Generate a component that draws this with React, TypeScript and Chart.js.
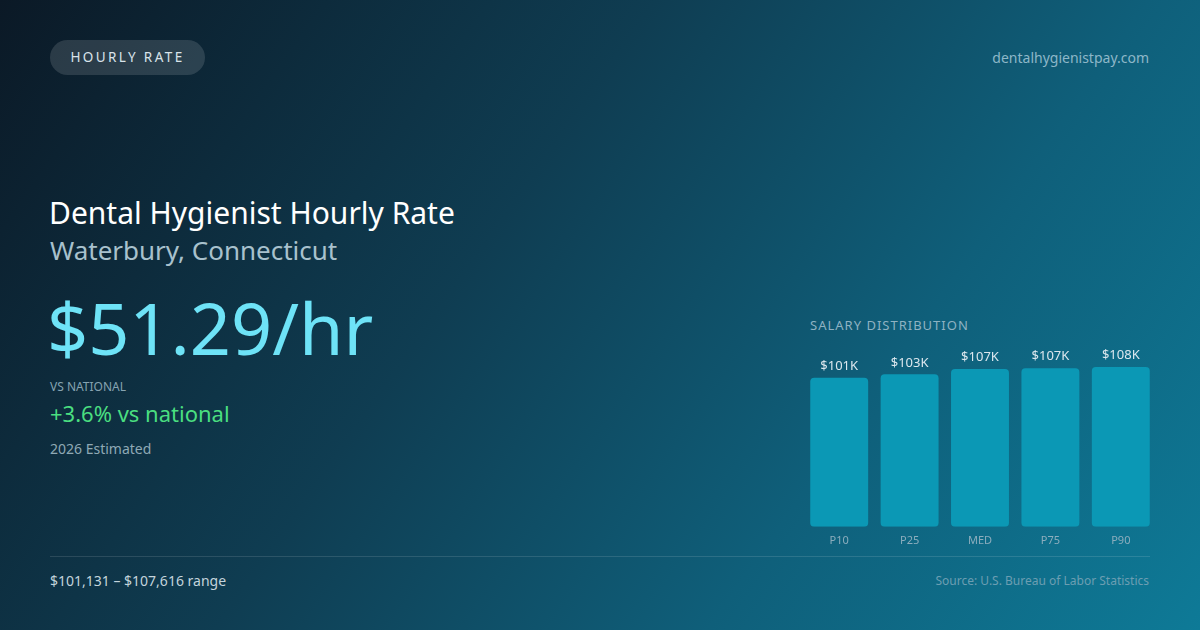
import { useEffect, useRef } from "react";
import { Chart, registerables } from "chart.js";

Chart.register(...registerables);

const percentiles = ["P10", "P25", "MED", "P75", "P90"];
const salaries = [101131, 103400, 107100, 107616, 108400];
const salaryLabels = ["$101K", "$103K", "$107K", "$107K", "$108K"];

const FONT = "'Noto Sans', 'Open Sans', sans-serif";

const valueLabelPlugin = {
  id: "valueLabels",
  afterDatasetsDraw(chart: Chart) {
    const { ctx } = chart;
    const meta = chart.getDatasetMeta(0);
    ctx.save();
    ctx.fillStyle = "#dce7ee";
    ctx.font = `13px ${FONT}`;
    ctx.textAlign = "center";
    ctx.textBaseline = "bottom";
    meta.data.forEach((bar: any, i: number) => {
      ctx.fillText(salaryLabels[i], bar.x, bar.y - 5);
    });
    ctx.restore();
  },
};

function SalaryChart() {
  const canvasRef = useRef<HTMLCanvasElement>(null);
  const chartRef = useRef<Chart | null>(null);

  useEffect(() => {
    if (!canvasRef.current) return;
    const ctx = canvasRef.current.getContext("2d");
    if (!ctx) return;

    chartRef.current = new Chart(ctx, {
      type: "bar",
      data: {
        labels: percentiles,
        datasets: [
          {
            data: salaries,
            backgroundColor: "#0b98b5",
            borderRadius: 4,
            borderSkipped: false,
            categoryPercentage: 1,
            barPercentage: 0.823,
          },
        ],
      },
      options: {
        responsive: true,
        maintainAspectRatio: false,
        animation: false,
        layout: { padding: { top: 27, left: 0, right: 0, bottom: 0 } },
        scales: {
          x: {
            grid: { display: false, drawTicks: false },
            border: { display: false },
            ticks: { color: "#8cadbd", font: { family: FONT, size: 11 }, padding: 7 },
          },
          y: {
            display: false,
            min: 0,
            max: Math.max(...salaries),
          },
        },
        plugins: {
          legend: { display: false },
          tooltip: { enabled: false },
        },
      },
      plugins: [valueLabelPlugin],
    });

    return () => {
      if (chartRef.current) {
        chartRef.current.destroy();
        chartRef.current = null;
      }
    };
  }, []);

  return (
    <div style={{ position: "absolute", left: 804, top: 340, width: 352, height: 214 }}>
      <canvas ref={canvasRef} />
    </div>
  );
}

export default function App() {
  const abs = (left: number, top: number): React.CSSProperties => ({
    position: "absolute",
    left,
    top,
    whiteSpace: "nowrap",
  });

  return (
    <div
      style={{
        position: "fixed",
        left: 0,
        top: 0,
        width: 1200,
        height: 630,
        overflow: "hidden",
        fontFamily: FONT,
        background: "linear-gradient(125deg, #0b1926 0%, #0f3d52 40%, #0f5f7a 70%, #0e7a97 100%)",
      }}
    >
      <div
        style={{
          ...abs(50, 40),
          width: 155,
          height: 35,
          borderRadius: 18,
          background: "rgba(255,255,255,0.13)",
          color: "#d9e3ea",
          fontSize: 13.5,
          letterSpacing: 2.4,
          lineHeight: "35px",
          textAlign: "center",
        }}
      >
        HOURLY RATE
      </div>
      <div style={{ ...abs(0, 48), width: 1149, textAlign: "right", fontSize: 14, color: "#8db7c8" }}>
        dentalhygienistpay.com
      </div>

      <div style={{ ...abs(49, 193), fontSize: 30, color: "#ffffff", lineHeight: "40px" }}>
        Dental Hygienist Hourly Rate
      </div>
      <div style={{ ...abs(50, 232), fontSize: 26, color: "#a8c1cd", lineHeight: "36px" }}>
        Waterbury, Connecticut
      </div>
      <div style={{ ...abs(47, 281), fontSize: 72, color: "#6ee3f7", lineHeight: "92px" }}>
        $51.29/hr
      </div>
      <div style={{ ...abs(50, 379), fontSize: 12, color: "#86a3b1", lineHeight: "16px" }}>
        VS NATIONAL
      </div>
      <div style={{ ...abs(50, 398), fontSize: 22, color: "#4ade80", lineHeight: "30px" }}>
        +3.6% vs national
      </div>
      <div style={{ ...abs(50, 440), fontSize: 14, color: "#8fa9b5", lineHeight: "18px" }}>
        2026 Estimated
      </div>

      <div style={{ ...abs(810, 316), fontSize: 13, letterSpacing: 1, color: "#8eb2c2", lineHeight: "18px" }}>
        SALARY DISTRIBUTION
      </div>
      <SalaryChart />

      <div style={{ ...abs(50, 556), width: 1100, height: 1, background: "rgba(255,255,255,0.12)" }} />
      <div style={{ ...abs(50, 572), fontSize: 14, color: "#c3d4dc", lineHeight: "18px" }}>
        $101,131 – $107,616 range
      </div>
      <div style={{ ...abs(0, 572), width: 1149, textAlign: "right", fontSize: 12, color: "#6c9eb2", lineHeight: "18px" }}>
        Source: U.S. Bureau of Labor Statistics
      </div>
    </div>
  );
}
